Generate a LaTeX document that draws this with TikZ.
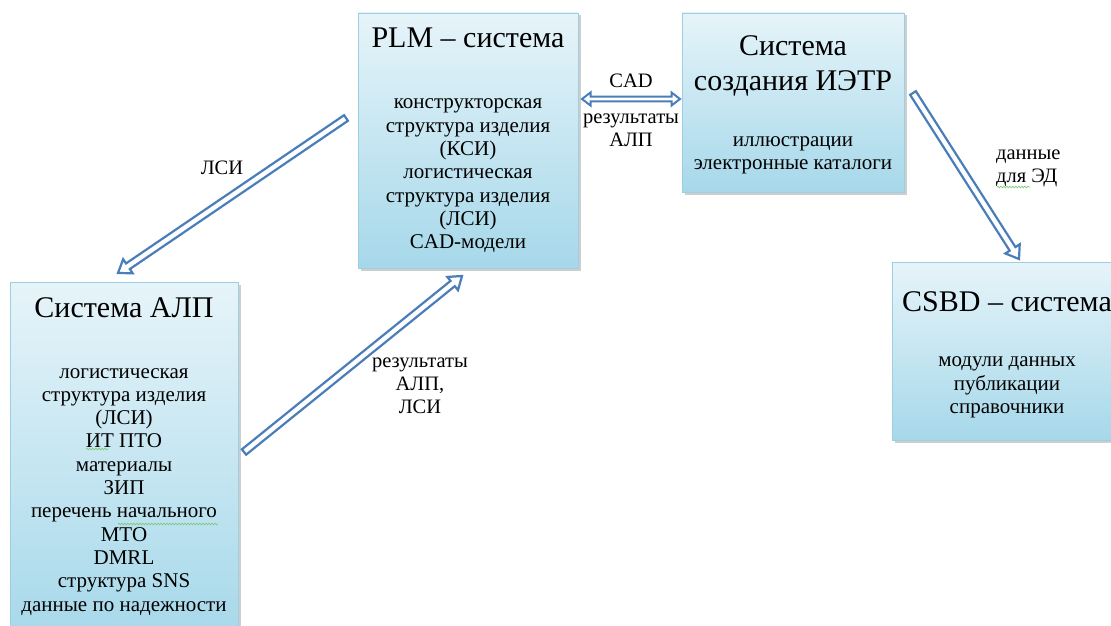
\documentclass[tikz,border=0pt]{standalone}
\usepackage{fontspec}
\setmainfont{Liberation Serif}
\usetikzlibrary{calc,shadows,decorations.pathmorphing}
\definecolor{arrowblue}{HTML}{4A7EBB}
\definecolor{boxtop}{HTML}{E6F4F9}
\definecolor{boxbot}{HTML}{A6D8EA}
\definecolor{boxline}{HTML}{9CCFE2}
\definecolor{spell}{HTML}{7FC97F}
\newcommand\baS{3.4pt}
\newcommand\baH{8.5pt}
\newcommand\baL{12pt}
\tikzset{
  ba shaft/.store in=\baS, ba head/.store in=\baH, ba len/.store in=\baL,
  sysbox/.style={draw=boxline, line width=0.8pt, top color=boxtop, bottom color=boxbot,
    drop shadow={shadow xshift=2.5pt, shadow yshift=-2.5pt, opacity=0.35, fill=black!55},
    anchor=north west, inner sep=0pt, outer sep=0pt},
  ttl/.style={font=\fontsize{30}{35}\selectfont, align=center, anchor=north, inner sep=0pt},
  body/.style={font=\fontsize{21}{23.3}\selectfont, align=center, anchor=north, inner sep=0pt},
  lbl/.style={font=\fontsize{20.5}{23}\selectfont, align=center, anchor=north, inner sep=0pt},
  arrowline/.style={draw=arrowblue, line width=2.2pt, fill=white, line join=miter},
  blockarrow/.style={arrowline, to path={
    ($(\tikztostart)!\baS!90:(\tikztotarget)$)
    -- ($($(\tikztotarget)!\baL!(\tikztostart)$)!\baS!90:(\tikztotarget)$)
    -- ($($(\tikztotarget)!\baL!(\tikztostart)$)!\baH!90:(\tikztotarget)$)
    -- (\tikztotarget)
    -- ($($(\tikztotarget)!\baL!(\tikztostart)$)!\baH!-90:(\tikztotarget)$)
    -- ($($(\tikztotarget)!\baL!(\tikztostart)$)!\baS!-90:(\tikztotarget)$)
    -- ($(\tikztostart)!\baS!-90:(\tikztotarget)$)
    -- cycle}},
  twoheadarrow/.style={arrowline, to path={
    ($($(\tikztostart)!\baL!(\tikztotarget)$)!\baS!90:(\tikztotarget)$)
    -- ($($(\tikztotarget)!\baL!(\tikztostart)$)!\baS!90:(\tikztotarget)$)
    -- ($($(\tikztotarget)!\baL!(\tikztostart)$)!\baH!90:(\tikztotarget)$)
    -- (\tikztotarget)
    -- ($($(\tikztotarget)!\baL!(\tikztostart)$)!\baH!-90:(\tikztotarget)$)
    -- ($($(\tikztotarget)!\baL!(\tikztostart)$)!\baS!-90:(\tikztotarget)$)
    -- ($($(\tikztostart)!\baL!(\tikztotarget)$)!\baS!-90:(\tikztotarget)$)
    -- ($($(\tikztostart)!\baL!(\tikztotarget)$)!\baH!-90:(\tikztotarget)$)
    -- (\tikztostart)
    -- ($($(\tikztostart)!\baL!(\tikztotarget)$)!\baH!90:(\tikztotarget)$)
    -- cycle}},
  wavy/.style={draw=spell, line width=0.7pt, decorate, decoration={snake, amplitude=0.8pt, segment length=3pt}}
}
\begin{document}
\begin{tikzpicture}[x=1pt,y=-1pt]
\clip (0,0) rectangle (1111,626);
\fill[white] (0,0) rectangle (1111,626);

% boxes
\node[sysbox, minimum width=220pt, minimum height=255pt] (plm) at (358,13) {};
\node[sysbox, minimum width=222pt, minimum height=179pt] (ietr) at (682,13) {};
\node[sysbox, minimum width=228pt, minimum height=360pt] (alp) at (10,282) {};
\node[sysbox, minimum width=232pt, minimum height=178pt] (csbd) at (892,262) {};

% box texts
\node[ttl] (plmT) at (468,22.5) {\strut PLM -- система};
\node[body] (plmB) at (468,92.3) {\strut конструкторская\\структура изделия\\(КСИ)\\логистическая\\структура изделия\\(ЛСИ)\\CAD-модели};

\node[ttl] (ietrT) at (793,30.5) {\strut Система\\создания ИЭТР};
\node[body, font=\fontsize{21}{22.5}\selectfont] (ietrB) at (793,131) {\strut иллюстрации\\электронные каталоги};

\node[ttl] (alpT) at (124,292.5) {\strut Система АЛП};
\node[body] (alpB) at (124,361.5) {\strut логистическая\\структура изделия\\(ЛСИ)\\ИТ ПТО\\материалы\\ЗИП\\перечень начального\\МТО\\DMRL\\структура SNS\\данные по надежности};

\node[ttl] (csbdT) at (1007,286.5) {\strut CSBD -- система};
\node[body] (csbdB) at (1007,350.3) {\strut модули данных\\публикации\\справочники};

% arrow end points
\coordinate (a1s) at (346,118);
\coordinate (a1e) at (118,273);
\coordinate (a2s) at (244,452);
\coordinate (a2e) at (462,276);
\coordinate (a3s) at (582,99);
\coordinate (a3e) at (680,99);
\coordinate (a4s) at (913,93);
\coordinate (a4e) at (1019,259);

\draw[blockarrow] (a1s) to (a1e);
\draw[blockarrow] (a2s) to (a2e);
\draw[twoheadarrow, ba shaft=2.4pt, ba head=6.5pt, ba len=8.5pt, line width=2pt] (a3s) to (a3e);
\draw[blockarrow] (a4s) to (a4e);

% connector labels
\node[lbl] (l1) at (222,157.9) {\strut ЛСИ};
\node[lbl] (l2) at (420,351) {\strut результаты\\АЛП,\\ЛСИ};
\node[lbl] (l3a) at (631,71) {\strut CAD};
\node[lbl] (l3b) at (631,107) {\strut результаты\\АЛП};
\node[lbl, align=left, anchor=north west] (l4) at (996,143) {\strut данные\\для ЭД};

% spell-check underlines
\draw[wavy] (86,449) -- (108,449);
\draw[wavy] (118,524) -- (218,524);
\draw[wavy] (997,187) -- (1030,187);
\end{tikzpicture}
\end{document}
